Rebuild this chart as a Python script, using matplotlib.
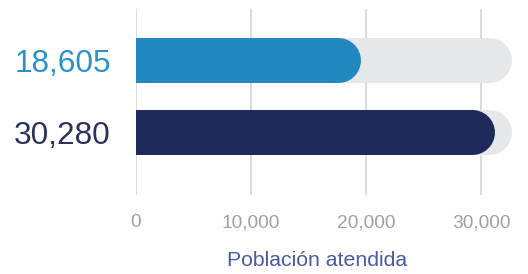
import matplotlib
matplotlib.use("Agg")
import matplotlib.pyplot as plt
from matplotlib.transforms import ScaledTranslation

labels = ["18,605", "30,280"]
values = [18605, 30280]
track_max = 31700
bar_colors = ["#2289c0", "#1d2a5a"]
label_colors = ["#2a91ca", "#2a3060"]
track_color = "#e6e7e9"
xticks = [0, 10000, 20000, 30000]
xtick_labels = ["0", "10,000", "20,000", "30,000"]
xlabel = "Población atendida"

plt.rcParams['font.family'] = ['Liberation Sans', 'DejaVu Sans']

fig = plt.figure(figsize=(5.28, 2.74), dpi=100)
ax = fig.add_axes([136/528, 1-195/274, (515.5-136)/528, 186/274])
ax.set_xlim(0, 33000)
ax.set_ylim(1.868, -0.715)

bar_h = 0.625
lw_pt = 45 * 72 / 100.0
shift = ScaledTranslation(-12/100.0, 0, fig.dpi_scale_trans)

def rounded_bar(y, v, color, z):
    ax.barh(y, v/2, left=0, height=bar_h, color=color, zorder=z, linewidth=0)
    ax.plot([v/2, v], [y, y], color=color, lw=lw_pt, solid_capstyle='round',
            transform=ax.transData + shift, zorder=z)

for i, (v, c) in enumerate(zip(values, bar_colors)):
    rounded_bar(i, track_max, track_color, 1)
    rounded_bar(i, v, c, 2)

ax.set_axisbelow(True)
ax.set_xticks(xticks)
ax.set_xticklabels(xtick_labels)
ax.grid(axis='x', color='#d8d8d8', lw=1.3, zorder=0)
ax.set_yticks(range(len(labels)))
ax.set_yticklabels(labels, fontsize=22.7)
for t, c in zip(ax.get_yticklabels(), label_colors):
    t.set_color(c)
ax.tick_params(axis='y', length=0, pad=18)
ax.tick_params(axis='x', length=0, pad=14, labelsize=13.8, labelcolor='#a0a0a0')
for s in ax.spines.values():
    s.set_visible(False)
ax.set_xlabel(xlabel, fontsize=15.3, color='#4a5aa0')
ax.xaxis.set_label_coords(0.477, -0.30)

fig.savefig("out.png", dpi=100)
